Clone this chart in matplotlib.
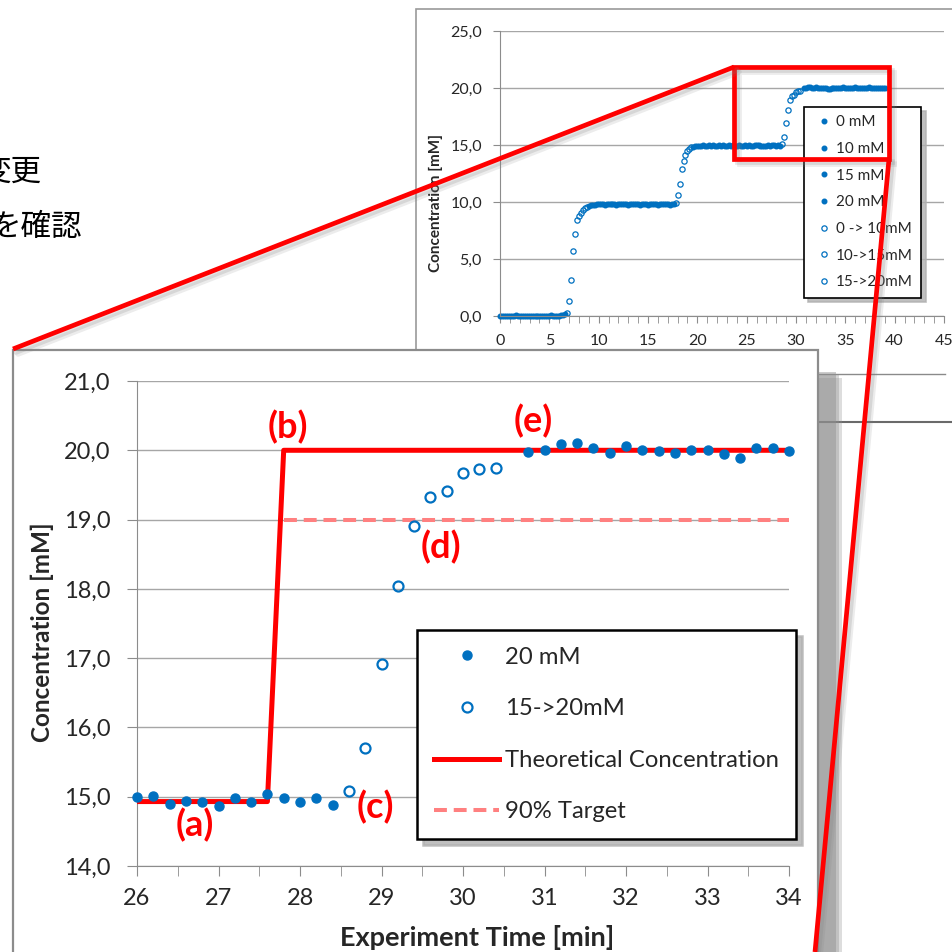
import matplotlib
matplotlib.use("Agg")
import matplotlib.pyplot as plt
from matplotlib.patches import Rectangle
from matplotlib.ticker import MultipleLocator, FuncFormatter
import numpy as np

W, H = 953, 952
plt.rcParams['font.family'] = ['Lato', 'DejaVu Sans']

BLUE = '#0070C0'
RED = '#FF0000'
PINK = '#FF8080'
GRID = '#a6a6a6'
SPINE = '#8c8c8c'
TXT = '#262626'

# ---- measured series (0.2 min sampling) ----
zero_start = 0.0
zero_mm = [0.03, 0.01, 0.02, 0.0, 0.04, 0.02, 0.0, 0.03, 0.05, 0.01, 0.0, 0.02,
           0.04, 0.01, -0.01, 0.02, 0.03, 0.0, 0.01, 0.04, 0.02, -0.02, 0.01, 0.03,
           0.0, 0.02, 0.05, 0.01, 0.0, 0.03, 0.02, 0.06, 0.1, 0.18]
rise_0_10_start = 6.8
rise_0_10 = [0.26, 1.3, 3.2, 5.7, 7.2, 8.4, 8.75, 9.04, 9.3, 9.45, 9.6]
ten_start = 9.0
ten_mm = [9.62, 9.70, 9.74, 9.78, 9.80, 9.79, 9.82, 9.80, 9.78, 9.81, 9.83, 9.79,
          9.80, 9.82, 9.78, 9.80, 9.81, 9.79, 9.84, 9.80, 9.78, 9.82, 9.80, 9.79,
          9.83, 9.81, 9.78, 9.80, 9.86, 9.80, 9.77, 9.82, 9.79, 9.80, 9.84, 9.78,
          9.80, 9.81, 9.79, 9.82, 9.80, 9.78, 9.81, 9.85]
rise_10_15_start = 17.8
rise_10_15 = [9.95, 10.6, 11.6, 12.9, 13.6, 14.1, 14.45, 14.65, 14.8]
fifteen_start = 19.6
fifteen_mm = [14.85, 14.90, 14.92, 14.95, 14.93, 14.97, 14.95, 14.92, 14.96, 14.94,
              14.98, 14.93, 14.95, 14.97, 14.92, 14.96, 14.94, 14.95, 14.99, 14.93,
              14.96, 14.94, 14.92, 14.97, 14.95, 14.93, 14.98, 14.94, 14.96, 14.92,
              14.95, 14.97,
              15.00, 15.01, 14.90, 14.94, 14.93, 14.87, 14.98, 14.93, 15.04, 14.98,
              14.93, 14.98, 14.88]
rise_15_20_start = 28.6
rise_15_20 = [15.08, 15.70, 16.92, 18.04, 18.91, 19.32, 19.41, 19.67, 19.73, 19.74]
twenty_start = 30.8
twenty_mm = [19.97, 20.00, 20.09, 20.10, 20.04, 19.96, 20.06, 20.00, 19.99, 19.96,
             20.00, 20.00, 19.95, 19.89, 20.04, 20.03, 19.99,
             20.02, 19.98, 20.01, 20.05, 19.97, 20.00, 20.03, 19.99, 20.02, 20.06,
             19.98, 20.01, 20.00, 20.04, 19.97, 20.02, 20.05, 19.99, 20.01, 20.03,
             19.98, 20.02, 20.00, 20.04, 19.99]

theo_t = [26.0, 27.6, 27.8, 34.0]
theo_c = [14.93, 14.93, 20.0, 20.0]
target_t = [27.8, 34.0]
target_c = [19.0, 19.0]

ZOOM_T = (26, 34)


def times(start, vals):
    return start + 0.2 * np.arange(len(vals))


def in_zoom(start, vals):
    t = times(start, vals)
    v = np.asarray(vals)
    m = (t >= ZOOM_T[0] - 1e-9) & (t <= ZOOM_T[1] + 1e-9)
    return t[m], v[m]


filled = [("0 mM", zero_start, zero_mm), ("10 mM", ten_start, ten_mm),
          ("15 mM", fifteen_start, fifteen_mm), ("20 mM", twenty_start, twenty_mm)]
opened = [("0 -> 10mM", rise_0_10_start, rise_0_10),
          ("10->15mM", rise_10_15_start, rise_10_15),
          ("15->20mM", rise_15_20_start, rise_15_20)]


def box(x0, y0, x1, y1):
    return [x0 / W, 1 - y1 / H, (x1 - x0) / W, (y1 - y0) / H]


def overlay(z):
    a = fig.add_axes([0, 0, 1, 1], zorder=z)
    a.set_xlim(0, W)
    a.set_ylim(H, 0)
    a.axis('off')
    return a


comma = FuncFormatter(lambda v, p: ("%.1f" % v).replace('.', ','))

fig = plt.figure(figsize=(W / 100, H / 100), dpi=100, facecolor='white')

# ---- background layer (slide text cut at left edge, as in the slide) ----
bg = overlay(0)
bg.text(42, 172, '変更', ha='right', va='center', fontsize=22,
        family=['Noto Sans CJK JP', 'DejaVu Sans'], color='black')
bg.text(82, 227, 'を確認', ha='right', va='center', fontsize=22,
        family=['Noto Sans CJK JP', 'DejaVu Sans'], color='black')
bg.add_patch(Rectangle((416, 9), 600, 413, facecolor='white', edgecolor='#9a9a9a', lw=1.2))
bg.plot([818, 945], [374, 374], color='#8a8a8a', lw=1)
bg.plot([818, 953], [422, 422], color='#6a6a6a', lw=1.5)

# ---- inset (full experiment) ----
ai = fig.add_axes(box(500, 31, 944, 316), zorder=1)
for lab, st, vals in filled:
    ai.plot(times(st, vals), vals, 'o', ms=3.3, color=BLUE, mec=BLUE, label=lab, clip_on=False)
for lab, st, vals in opened:
    ai.plot(times(st, vals), vals, 'o', ms=3.8, mfc='none', mec=BLUE, mew=0.9, label=lab, clip_on=False)
ai.set_xlim(0, 45)
ai.set_ylim(0, 25)
ai.xaxis.set_major_locator(MultipleLocator(5))
ai.xaxis.set_minor_locator(MultipleLocator(1))
ai.yaxis.set_major_locator(MultipleLocator(5))
ai.yaxis.set_major_formatter(comma)
ai.grid(axis='y', color=GRID, lw=1)
ai.set_axisbelow(True)
for s in ['top', 'right']:
    ai.spines[s].set_visible(False)
for s in ['left', 'bottom']:
    ai.spines[s].set_color(SPINE)
ai.tick_params(which='both', direction='out', color=SPINE, length=5, labelsize=11.5,
               labelcolor=TXT)
ai.tick_params(axis='x', pad=8)
ai.tick_params(axis='y', pad=8)
fig.text(436 / W, 1 - 203 / H, 'Concentration [mM]', rotation=90, ha='center', va='center',
         fontsize=11, fontweight='bold', color=TXT)
leg_i = ai.legend(loc='upper left', bbox_to_anchor=(804 / W, 1 - 107 / H),
                  bbox_transform=fig.transFigure, borderaxespad=0, fontsize=11,
                  frameon=True, fancybox=False, edgecolor='black', framealpha=1,
                  handlelength=1.5, handletextpad=0.05, borderpad=0.55,
                  labelspacing=0.83, numpoints=1,
                  shadow={'color': '#b0b0b0', 'alpha': 0.8, 'ox': 3, 'oy': -3})
leg_i.get_frame().set_linewidth(1.2)
for t in leg_i.get_texts():
    t.set_color(TXT)

# ---- main panel ----
pnl = overlay(2)
for d, a in [(24, 0.3), (21, 0.35), (18, 0.45)]:
    pnl.add_patch(Rectangle((13 + d, 350 + d + 4), 805, 700, facecolor='#8f8f8f',
                            edgecolor='none', alpha=a))
pnl.add_patch(Rectangle((13, 350), 805, 700, facecolor='white', edgecolor='#8c8c8c', lw=1.6))

am = fig.add_axes(box(137, 381, 789, 866), zorder=3)
for lab, st, vals in filled:
    t, v = in_zoom(st, vals)
    if len(t) == 0:
        continue
    lbl = "20 mM" if lab == "20 mM" else "_" + lab
    am.plot(t, v, 'o', ms=6.5, color=BLUE, mec=BLUE, label=lbl, zorder=4, clip_on=False)
for lab, st, vals in opened:
    t, v = in_zoom(st, vals)
    if len(t) == 0:
        continue
    lbl = "15->20mM" if lab == "15->20mM" else "_" + lab
    am.plot(t, v, 'o', ms=7.2, mfc='none', mec=BLUE, mew=1.6, label=lbl, zorder=4, clip_on=False)
am.plot(theo_t, theo_c, color=RED, lw=3.6, label='Theoretical Concentration', zorder=3)
am.plot(target_t, target_c, color=PINK, lw=2.9, linestyle=(0, (3.2, 1.7)),
        label='90% Target', zorder=3)
am.set_xlim(*ZOOM_T)
am.set_ylim(14, 21)
am.xaxis.set_major_locator(MultipleLocator(1))
am.xaxis.set_minor_locator(MultipleLocator(0.5))
am.yaxis.set_major_locator(MultipleLocator(1))
am.yaxis.set_major_formatter(comma)
am.grid(axis='y', color=GRID, lw=1)
am.set_axisbelow(True)
for s in ['top', 'right']:
    am.spines[s].set_visible(False)
for s in ['left', 'bottom']:
    am.spines[s].set_color(SPINE)
am.tick_params(which='both', direction='out', color=SPINE, length=7, labelsize=17,
               labelcolor=TXT)
am.tick_params(axis='x', pad=9)
am.tick_params(axis='y', pad=12)
fig.text(42 / W, 1 - 632 / H, 'Concentration [mM]', rotation=90, ha='center', va='center',
         fontsize=17.5, fontweight='bold', color=TXT)
fig.text(477 / W, 1 - 938 / H, 'Experiment Time [min]', ha='center', va='center',
         fontsize=19.5, fontweight='bold', color=TXT)
h, l = am.get_legend_handles_labels()
leg_m = am.legend(h, l, loc='upper left', bbox_to_anchor=(417 / W, 1 - 630 / H),
                  bbox_transform=fig.transFigure, borderaxespad=0, fontsize=17.2,
                  frameon=True, fancybox=False, edgecolor='black', framealpha=1,
                  handlelength=2.75, handletextpad=0.25, borderpad=0.7,
                  labelspacing=1.28, numpoints=1,
                  shadow={'color': '#b0b0b0', 'alpha': 0.8, 'ox': 4, 'oy': -4})
leg_m.get_frame().set_linewidth(1.8)
for t in leg_m.get_texts():
    t.set_color(TXT)

# ---- callouts and zoom frame ----
lab_ax = overlay(3.5)
lab_kw = dict(color=RED, fontsize=26, fontweight='bold', ha='center', va='center')
for s, (x, y) in zip(['(a)', '(b)', '(c)', '(d)', '(e)'],
                     [(195, 825), (288, 427), (375, 807), (441, 547), (533, 421)]):
    lab_ax.text(x, y, s, **lab_kw)

top = overlay(4)
for dx, a in [(5, 0.15), (3, 0.2)]:
    top.plot([734 + dx, 13 + dx], [67 + dx, 349 + dx], color='gray', lw=4, alpha=a, solid_capstyle='round')
    top.plot([889 + dx, 815 + dx], [159 + dx, 952 + dx], color='gray', lw=4, alpha=a)
    top.add_patch(Rectangle((734 + dx, 67 + dx), 155, 92, fill=False, edgecolor='gray', lw=3.4, alpha=a))
top.add_patch(Rectangle((734, 67), 155, 92, fill=False, edgecolor=RED, lw=3.4, joinstyle='miter'))
top.plot([734, 13], [67, 349], color=RED, lw=3.4, solid_capstyle='butt')
top.plot([889, 815], [159, 952], color=RED, lw=3.4, solid_capstyle='butt')

fig.savefig('out.png', dpi=100, facecolor='white')
